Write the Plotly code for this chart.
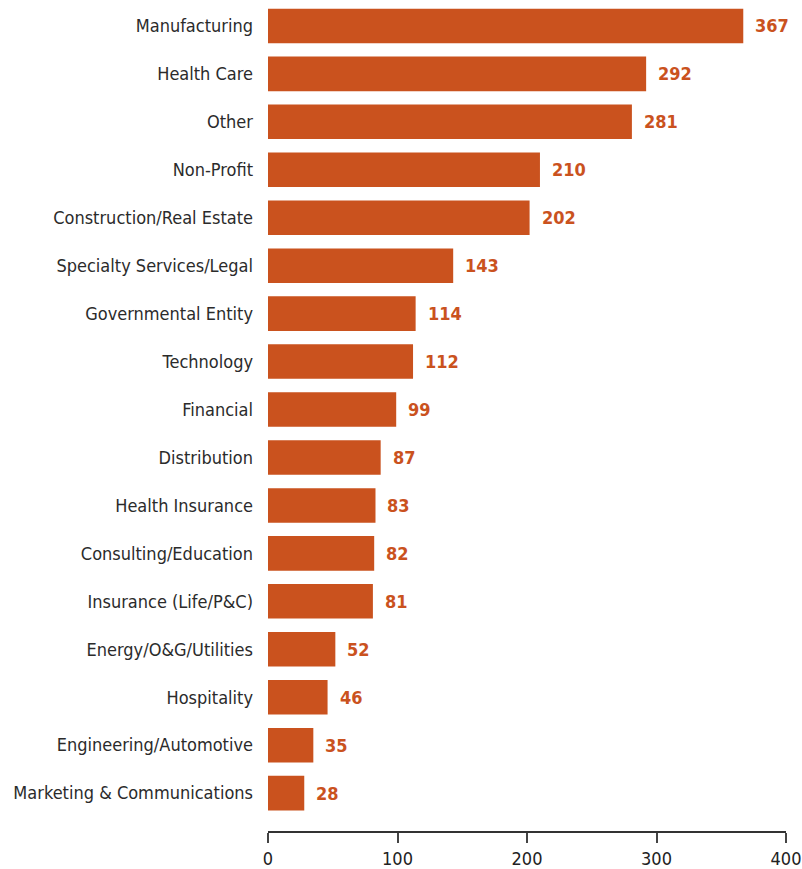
import plotly.graph_objects as go

industries = [
    "Manufacturing", "Health Care", "Other", "Non-Profit",
    "Construction/Real Estate", "Specialty Services/Legal",
    "Governmental Entity", "Technology", "Financial", "Distribution",
    "Health Insurance", "Consulting/Education", "Insurance (Life/P&C)",
    "Energy/O&G/Utilities", "Hospitality", "Engineering/Automotive",
    "Marketing & Communications",
]
counts = [367, 292, 281, 210, 202, 143, 114, 112, 99, 87, 83, 82, 81, 52, 46, 35, 28]
x_ticks = [0, 100, 200, 300, 400]

BAR = "#CA521E"
LABEL_FONT = "DejaVu Sans Condensed"

positions = list(range(len(industries)))

fig = go.Figure(
    go.Bar(
        x=counts,
        y=positions,
        orientation="h",
        marker=dict(color=BAR, line=dict(width=0)),
        width=0.72,
        hoverinfo="x+text",
        hovertext=industries,
    )
)

for pos, val in zip(positions, counts):
    fig.add_annotation(
        x=val, y=pos, text=f"<b>{val}</b>", showarrow=False,
        xanchor="left", yanchor="middle", xshift=10,
        font=dict(family=LABEL_FONT, size=18, color=BAR),
    )

fig.update_layout(
    width=802, height=869,
    margin=dict(l=268, r=16, t=1, b=38),
    paper_bgcolor="white", plot_bgcolor="white",
    showlegend=False,
    font=dict(family=LABEL_FONT, color="#2b2b2b", size=18),
    xaxis=dict(
        range=[0, 400], tickvals=x_ticks, ticktext=[str(t) for t in x_ticks],
        showgrid=False, zeroline=False, automargin=False,
        ticklabeloverflow="allow",
        showline=True, linecolor="#333333", linewidth=2,
        ticks="outside", ticklen=10, tickwidth=1.5, tickcolor="#444444",
        tickfont=dict(size=18, color="#222222"),
    ),
    yaxis=dict(
        range=[16.79, -0.52], tickvals=positions, ticktext=industries,
        showgrid=False, zeroline=False, showline=False, automargin=False,
        ticks="", ticklabelstandoff=14,
        tickfont=dict(size=18, color="#2b2b2b"),
    ),
)

fig.write_html("out.html")
